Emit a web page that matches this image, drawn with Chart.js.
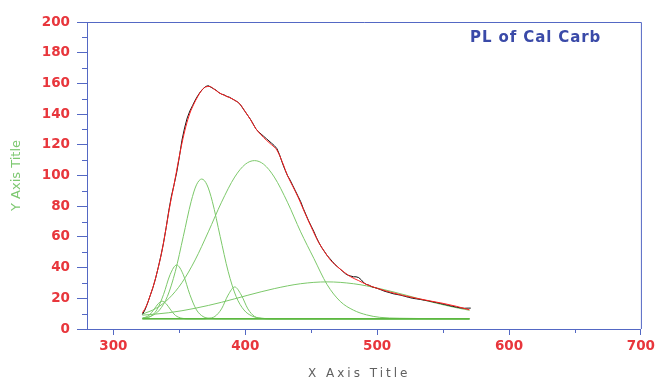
<!DOCTYPE html>
<html>
<head>
<meta charset="utf-8">
<script src="https://cdn.jsdelivr.net/npm/chart.js@4.4.0/dist/chart.umd.min.js"></script>
<style>
  html, body { margin: 0; padding: 0; background: #fff; }
</style>
</head>
<body>
<canvas id="chart" width="658" height="377"></canvas>
<script>
// measured PL spectrum (black)
const dataX = [322, 324, 326, 328, 330, 332, 334, 336, 338, 340, 342, 344, 346, 348, 350, 352, 354, 356, 358, 360,
  362, 364, 366, 368, 370, 372, 374, 376, 378, 380, 382, 384, 386, 388, 390, 392, 394, 396, 398, 400,
  402, 404, 406, 408, 410, 412, 414, 416, 418, 420, 422, 424, 426, 428, 430, 432, 434, 436, 438, 440,
  442, 444, 446, 448, 450, 452, 454, 456, 458, 460, 462, 464, 466, 468, 470, 472, 474, 476, 478, 480,
  482, 484, 486, 488, 490, 492, 494, 496, 498, 500, 503, 506, 509, 512, 515, 518, 521, 524, 527, 530,
  533, 536, 539, 542, 545, 548, 551, 554, 557, 560, 563, 566, 569, 571];
const dataY = [9.5, 12.5, 17, 22, 27, 33, 40, 47.5, 56, 66, 77, 86.5, 94, 102, 112, 123, 131, 137.5, 142, 145.5,
  149, 152, 154.5, 156.5, 158, 158.5, 157.5, 156.5, 155.5, 154, 153, 152.5, 151.5, 151, 150, 149, 148, 146.5, 144, 141.5,
  139, 136.5, 133.5, 130.5, 128.5, 127, 125.5, 124, 122.5, 121, 119.5, 117.5, 113.5, 108.5, 104, 100, 97, 93.5, 90, 86.5,
  83, 78.5, 74.5, 70.5, 67, 63.5, 59.5, 56, 53, 50.5, 48, 46, 44, 42, 40.5, 39, 37.5, 36, 35, 34.5,
  34, 34, 33.5, 32, 30, 29, 28.5, 27.5, 27, 26.5, 25.5, 24.5, 23.8, 23, 22.5, 22, 21.3, 20.6, 20, 19.6,
  19.2, 18.7, 18.3, 17.7, 17.2, 16.6, 16, 15.4, 14.8, 14.3, 13.8, 13.5, 13.6, 13.6];

// cumulative fit (red)
const fitX = [322, 325, 328, 331, 334, 337, 340, 343, 346, 349, 352, 355, 358, 361, 364, 367, 370, 373, 376, 380,
  384, 388, 392, 396, 400, 404, 408, 412, 416, 420, 424, 428, 432, 436, 440, 445, 450, 455, 460, 465,
  470, 475, 480, 486, 492, 500, 510, 520, 530, 540, 550, 560, 570];
const fitY = [10.5, 15, 22, 30, 40, 51.5, 66, 81, 94, 108, 121, 132, 140.5, 146.5, 151.5, 155.5, 157.7, 158, 156.5, 154,
  152.3, 150.8, 149, 146.5, 141.5, 136.4, 130.5, 126.5, 123, 120, 116.5, 109, 100, 93, 86, 76, 66.5, 57.5, 50.5, 44.5,
  40.5, 37, 34, 31.5, 29, 26.5, 24, 21.8, 20, 18.3, 16.7, 14.8, 12.5];

// fitted components (green)
const baseX = [322, 570];
const baseY = [6.6, 6.6];
const peak337X = [322, 327, 331, 334, 337, 340, 343, 347, 352, 358, 570];
const peak337Y = [7.0, 8.9, 13.0, 16.5, 18.1, 16.5, 13.0, 8.9, 7.0, 6.6, 6.6];
const peak348X = [322, 328, 333, 338, 343, 348, 353, 358, 363, 368, 374, 382, 570];
const peak348Y = [6.9, 8.1, 12.5, 22.4, 35.4, 41.7, 35.4, 22.4, 12.5, 8.1, 6.9, 6.6, 6.6];
const peak367X = [322, 329, 335, 341, 347, 353, 359, 363, 367, 371, 375, 381, 387, 393, 399, 405, 412, 420, 570];
const peak367Y = [7.1, 8.5, 12.4, 21.3, 37.6, 60.2, 83.2, 93.9, 97.7, 93.9, 83.2, 60.2, 37.6, 21.3, 12.4, 8.5, 7.1, 6.6, 6.6];
const peak392X = [322, 366, 372, 377, 382, 387, 392, 397, 402, 407, 412, 420, 570];
const peak392Y = [6.6, 6.6, 6.9, 8.2, 13.1, 22.1, 27.4, 22.1, 13.1, 8.2, 6.9, 6.6, 6.6];
const peak407X = [322, 332, 342, 352, 362, 372, 382, 392, 400, 407, 414, 422, 432, 442, 452, 462, 472, 482, 492, 502, 517, 570];
const peak407Y = [9.7, 13.3, 19.8, 30.2, 45.0, 63.3, 82.6, 99.0, 107.3, 109.7, 107.3, 99.0, 82.6, 63.3, 46, 29, 18, 12.3, 9.2, 7.6, 7.0, 6.6];
const peak462X = [322, 342, 362, 382, 402, 422, 442, 462, 482, 502, 522, 542, 562, 570];
const peak462Y = [9.0, 10.6, 13.5, 17.4, 22.0, 26.3, 29.5, 30.7, 29.5, 26.3, 22.0, 17.4, 13.5, 12.2];

const xTicks = [300, 400, 500, 600, 700];
const xMinor = [350, 450, 550, 650];
const yMinor = [10, 30, 50, 70, 90, 110, 130, 150, 170, 190];

const axisBlue = '#5468c4';
const tickRed = '#e8363c';
const compGreen = '#7cc86a';

const pts = (xs, ys) => xs.map((x, i) => ({x: x, y: ys[i]}));

function component(xs, ys, color, width) {
  return {
    data: pts(xs, ys),
    borderColor: color,
    borderWidth: width,
    pointRadius: 0,
    cubicInterpolationMode: 'monotone',
    order: 2
  };
}

// frame, minor ticks and texts that chart.js has no slot for
const frame = {
  id: 'frame',
  afterDraw(chart) {
    const {ctx, chartArea: a, scales: {x, y}} = chart;
    ctx.save();
    ctx.strokeStyle = axisBlue;
    ctx.lineWidth = 1;
    ctx.beginPath();
    ctx.moveTo(a.left, a.top + 0.5);
    ctx.lineTo(a.right + 0.5, a.top + 0.5);
    ctx.lineTo(a.right + 0.5, a.bottom);
    yMinor.forEach(v => {
      const py = Math.round(y.getPixelForValue(v)) + 0.5;
      ctx.moveTo(a.left - 5, py);
      ctx.lineTo(a.left, py);
    });
    xMinor.forEach(v => {
      const px = Math.round(x.getPixelForValue(v)) + 0.5;
      ctx.moveTo(px, a.bottom);
      ctx.lineTo(px, a.bottom + 4);
    });
    ctx.stroke();

    ctx.textBaseline = 'alphabetic';
    ctx.textAlign = 'left';
    ctx.fillStyle = '#3a4aa8';
    ctx.font = 'bold 15px "DejaVu Sans"';
    ctx.letterSpacing = '0.9px';
    ctx.fillText('PL of Cal Carb', 470, 41.5);

    ctx.fillStyle = '#606060';
    ctx.font = '12px "DejaVu Sans"';
    ctx.letterSpacing = '3px';
    ctx.fillText('X Axis Title', 308, 376.5);
    ctx.restore();
  }
};

new Chart(document.getElementById('chart'), {
  type: 'line',
  data: {
    datasets: [
      {
        data: pts(fitX, fitY),
        borderColor: '#ff2020',
        borderWidth: 1,
        pointRadius: 0,
        cubicInterpolationMode: 'monotone',
        order: 0
      },
      {
        data: pts(dataX, dataY),
        borderColor: '#111',
        borderWidth: 1,
        pointRadius: 0,
        tension: 0,
        order: 1
      },
      component(baseX, baseY, '#5cb840', 1.5),
      component(peak337X, peak337Y, compGreen, 1),
      component(peak348X, peak348Y, compGreen, 1),
      component(peak367X, peak367Y, compGreen, 1),
      component(peak392X, peak392Y, compGreen, 1),
      component(peak407X, peak407Y, compGreen, 1),
      component(peak462X, peak462Y, compGreen, 1)
    ]
  },
  options: {
    responsive: false,
    animation: false,
    layout: { padding: { top: 22, right: 17, bottom: 0, left: 0 } },
    plugins: {
      legend: { display: false },
      tooltip: { enabled: false }
    },
    scales: {
      x: {
        type: 'linear',
        min: 280,
        max: 700,
        afterBuildTicks: scale => { scale.ticks = xTicks.map(v => ({value: v})); },
        afterFit: scale => { scale.height = 48; },
        grid: { drawOnChartArea: false, tickLength: 6, tickColor: axisBlue },
        border: { color: axisBlue, width: 1 },
        ticks: {
          color: tickRed,
          padding: 3,
          maxRotation: 0,
          font: { family: 'DejaVu Sans', weight: 'bold', size: 13.5 }
        }
      },
      y: {
        min: 0,
        max: 200,
        afterFit: scale => { scale.width = 87; },
        grid: { drawOnChartArea: false, tickLength: 10, tickColor: axisBlue },
        border: { color: axisBlue, width: 1 },
        ticks: {
          stepSize: 20,
          color: tickRed,
          padding: 7,
          font: { family: 'DejaVu Sans', weight: 'bold', size: 13.5 }
        },
        title: {
          display: true,
          text: 'Y Axis Title',
          color: '#7dc870',
          padding: { top: 9, bottom: 0 },
          font: { family: 'DejaVu Sans', size: 13 }
        }
      }
    }
  },
  plugins: [frame]
});
</script>
</body>
</html>
